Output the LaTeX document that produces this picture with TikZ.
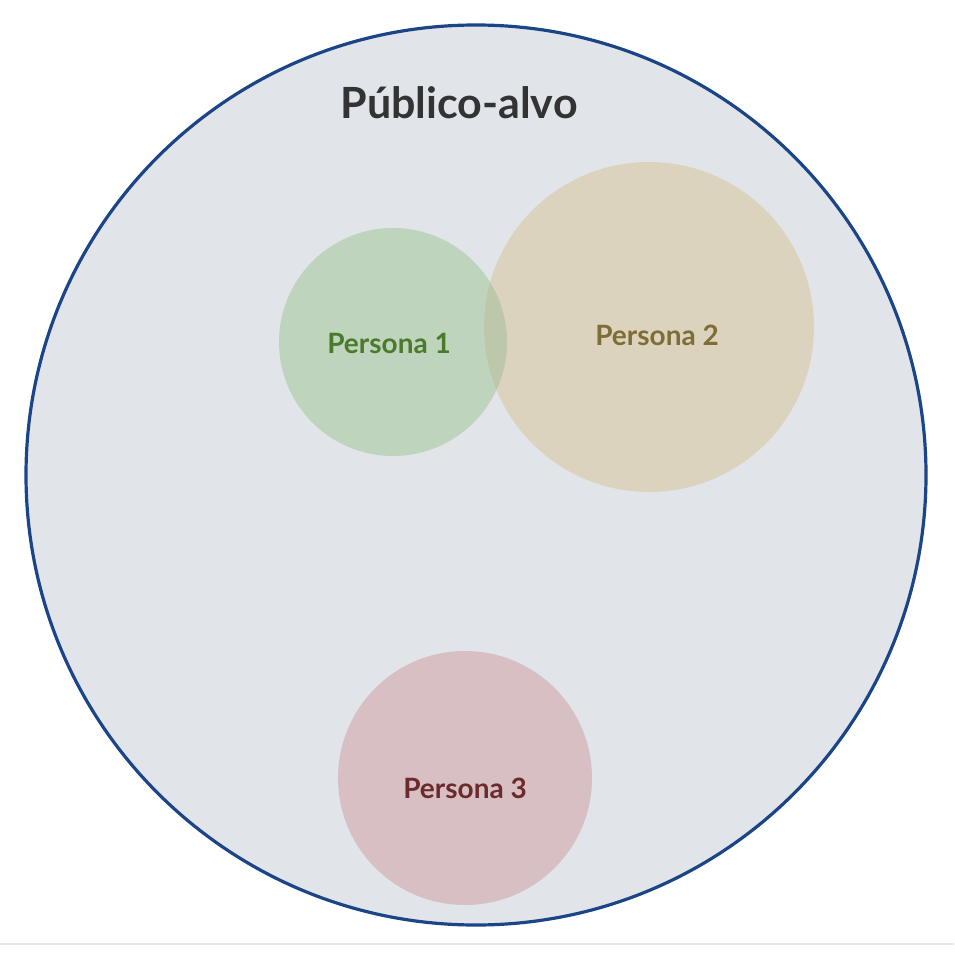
\documentclass[tikz,border=0pt]{standalone}
\usepackage{fontspec}
\setmainfont{Lato}
\usepackage{xcolor}
\usepackage{tikz}
\definecolor{AudienceFill}{HTML}{E1E5EA}
\definecolor{AudienceLine}{HTML}{1B4587}
\definecolor{TitleGrey}{HTML}{333333}
\definecolor{RuleGrey}{HTML}{E3E7EE}
\definecolor{GreenFill}{HTML}{BFD4BC}
\definecolor{GreenText}{HTML}{4B7A2C}
\definecolor{TanFill}{HTML}{DBD3BE}
\definecolor{TanText}{HTML}{7F6D36}
\definecolor{RoseFill}{HTML}{D8BFC3}
\definecolor{RoseText}{HTML}{6C2B2B}
\definecolor{LensFill}{HTML}{BCC8A9}

\begin{document}
\begin{tikzpicture}[x=0.5pt, y=-0.5pt,
    persona/.style={circle, inner sep=0pt},
    personalabel/.style={font=\fontsize{14}{16}\selectfont\bfseries}]
  \useasboundingbox (0,0) rectangle (954,956);
  \draw[RuleGrey, line width=1pt] (0,944) -- (954,944);

  % the whole audience
  \node[circle, fill=AudienceFill, draw=AudienceLine, line width=1.6pt,
        minimum size=450pt, inner sep=0pt] (publico) at (476,475) {};
  \node[text=TitleGrey, font=\fontsize{21.5}{25}\selectfont\bfseries]
    (titulo) at (459,103) {Público-alvo};

  % personas
  \node[persona, fill=GreenFill, minimum size=114pt] (persona1) at (393,342) {};
  \node[persona, fill=TanFill, minimum size=165pt] (persona2) at (649,327) {};
  \node[persona, fill=RoseFill, minimum size=127pt] (persona3) at (465,778) {};
  \begin{scope}
    \clip (persona1.center) circle [radius=57pt];
    \fill[LensFill] (persona2.center) circle [radius=82.5pt];
  \end{scope}

  \node[personalabel, text=GreenText] (rotulo1) at (389,343) {Persona 1};
  \node[personalabel, text=TanText] (rotulo2) at (657,335) {Persona 2};
  \node[personalabel, text=RoseText] (rotulo3) at (465,788) {Persona 3};
\end{tikzpicture}
\end{document}
